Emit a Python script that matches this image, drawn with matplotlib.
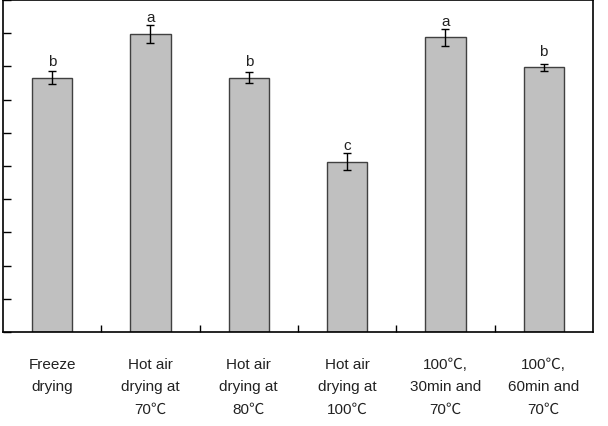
import matplotlib.pyplot as plt
import numpy as np

plt.rcParams['font.family'] = ['Liberation Sans', 'Noto Sans CJK SC', 'DejaVu Sans']

categories = ['Freeze\ndrying', 'Hot air\ndrying at\n70℃', 'Hot air\ndrying at\n80℃',
              'Hot air\ndrying at\n100℃', '100℃,\n30min and\n70℃', '100℃,\n60min and\n70℃']
values = [7.66, 8.98, 7.66, 5.13, 8.87, 7.97]
errors = [0.19, 0.27, 0.17, 0.25, 0.25, 0.10]
letters = ['b', 'a', 'b', 'c', 'a', 'b']

fig = plt.figure(figsize=(6.08, 4.27), dpi=100)
ax = fig.add_axes([0.005, 0.22, 0.97, 0.778])

x = np.arange(len(categories))
ax.bar(x, values, width=0.41, color='#c0c0c0', edgecolor='#404040', linewidth=1.0,
       yerr=errors, capsize=3, error_kw=dict(ecolor='black', elinewidth=1, capthick=1))

for xi, v, lab in zip(x, values, letters):
    ax.text(xi, v + 0.28, lab, ha='center', va='bottom', fontsize=11, color='#222222')

ax.set_xlim(-0.5, len(categories) - 0.5)
ax.set_ylim(0, 10)
ax.set_yticks(np.arange(0, 11, 1))
ax.set_yticklabels([])
ax.tick_params(axis='y', direction='in', length=6, width=1)

ax.set_xticks(x)
ax.set_xticklabels(categories, fontsize=11, linespacing=1.75, color='#222222')
ax.tick_params(axis='x', which='major', length=0, pad=18)
ax.set_xticks(x[:-1] + 0.5, minor=True)
ax.tick_params(axis='x', which='minor', direction='in', length=5, width=1)

for s in ax.spines.values():
    s.set_linewidth(1.2)

fig.savefig('out.png', dpi=100)
